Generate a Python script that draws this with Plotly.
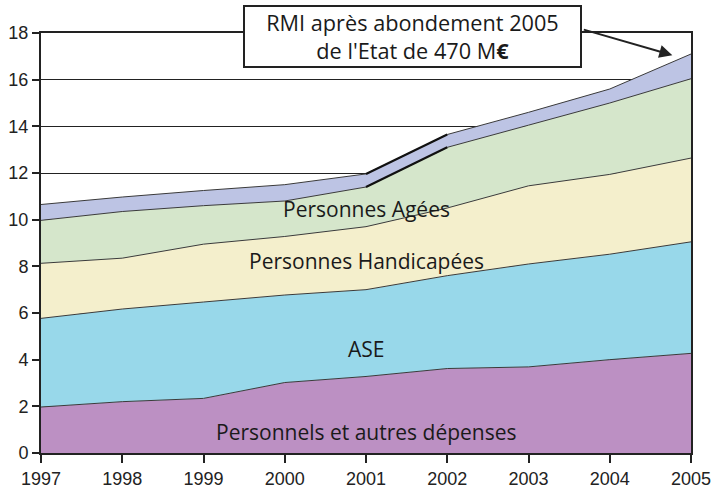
import plotly.graph_objects as go
import numpy as np

years = [1997, 1998, 1999, 2000, 2001, 2002, 2003, 2004, 2005]
personnels = [1.97, 2.20, 2.34, 3.02, 3.28, 3.62, 3.69, 4.00, 4.27]
ase = [3.80, 3.97, 4.13, 3.75, 3.72, 3.98, 4.41, 4.52, 4.78]
handicapees = [2.36, 2.18, 2.48, 2.51, 2.70, 2.90, 3.35, 3.42, 3.59]
agees = [1.84, 2.00, 1.65, 1.52, 1.70, 2.60, 2.60, 3.06, 3.40]
rmi = [0.68, 0.62, 0.65, 0.70, 0.56, 0.55, 0.55, 0.60, 1.06]

series_names = ["Personnels et autres dépenses", "ASE", "Personnes Handicapées",
                "Personnes Agées", "RMI"]
series_values = [personnels, ase, handicapees, agees, rmi]
colors = ["#BC90C3", "#98D8EA", "#F4EFCC", "#D5E6CB", "#BDC4E4"]
y_ticks = [0, 2, 4, 6, 8, 10, 12, 14, 16, 18]

FONT = "Open Sans, Liberation Sans, sans-serif"
TICKFONT = "Liberation Sans Narrow, Liberation Sans, sans-serif"

fig = go.Figure()
for name, vals, col in zip(series_names, series_values, colors):
    fig.add_trace(go.Scatter(
        x=years, y=vals, name=name, stackgroup="one", mode="lines",
        line=dict(color="#3a3a3a", width=1), fillcolor=col, hoverinfo="skip"))

# thick dark segments between 2001 and 2002 on the two upper boundaries
cum = np.cumsum(np.array(series_values), axis=0)
for level in (3, 4):
    i0, i1 = years.index(2001), years.index(2002)
    fig.add_trace(go.Scatter(
        x=[years[i0], years[i1]], y=[cum[level][i0], cum[level][i1]],
        mode="lines", line=dict(color="#111111", width=2.2), showlegend=False,
        hoverinfo="skip"))

# band labels
labels = [("Personnes Agées", 2001, 10.46), ("Personnes Handicapées", 2001, 8.22),
          ("ASE", 2001, 4.45), ("Personnels et autres dépenses", 2001, 0.89)]
for txt, xx, yy in labels:
    fig.add_annotation(x=xx, y=yy, text=txt, showarrow=False,
                       xanchor="center", yanchor="middle",
                       font=dict(family=FONT, size=21, color="#1a1a1a"))

# callout box
fig.add_annotation(x=0.5708, y=0.9917, xref="paper", yref="paper",
                   xanchor="center", yanchor="middle",
                   text="RMI après abondement 2005<br>de l'Etat de 470 M<b>€</b>",
                   showarrow=False, align="center",
                   font=dict(family=FONT, size=21.7, color="#1a1a1a"),
                   bgcolor="white", bordercolor="#222222", borderwidth=2,
                   borderpad=2, width=331, height=55)
# arrow
fig.add_annotation(x=2004.77, y=17.05, text="", showarrow=True,
                   ax=-90, ay=-26, axref="pixel", ayref="pixel",
                   arrowhead=2, arrowsize=1.3, arrowwidth=2, arrowcolor="#222222")

fig.update_layout(
    width=712, height=488,
    margin=dict(l=41, r=21, t=33, b=35),
    paper_bgcolor="white", plot_bgcolor="white",
    showlegend=False,
    xaxis=dict(range=[1997, 2005], tickvals=years, ticks="outside", ticklen=8,
               tickcolor="#222222", tickwidth=2, showgrid=False,
               showline=True, linecolor="#222222", linewidth=2, mirror=True,
               tickfont=dict(family=TICKFONT, size=18, color="#222222"),
               zeroline=False, fixedrange=True, automargin=False),
    yaxis=dict(range=[0, 18], tickvals=y_ticks, ticks="outside", ticklen=7,
               tickcolor="#222222", tickwidth=2, showgrid=True,
               gridcolor="#222222", gridwidth=1,
               showline=True, linecolor="#222222", linewidth=2, mirror=True,
               tickfont=dict(family=TICKFONT, size=18, color="#222222"),
               zeroline=False, fixedrange=True, automargin=False),
)

# remove the page's default 8 px body margin so the figure fills the window
fig.write_html("out.html",
               config={"displayModeBar": False, "staticPlot": True},
               post_script="document.body.style.margin='0';"
                           "document.body.style.overflow='hidden';")
